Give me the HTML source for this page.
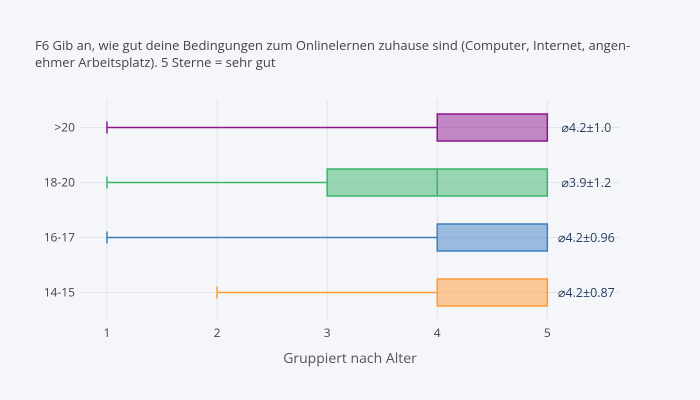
<!DOCTYPE html>
<html><head><meta charset="utf-8"><style>
body{margin:0;background:#f5f6fa;}
svg{display:block;font-family:"Open Sans","Liberation Sans",sans-serif;}
</style></head><body>
<svg id="chart" width="700" height="400">
<rect x="0" y="0" width="700" height="400" fill="#f5f6fa"/>
<text x="35" y="50" font-size="13" fill="#444">F6 Gib an, wie gut deine Bedingungen zum Onlinelernen zuhause sind (Computer, Internet, angen-</text>
<text x="35" y="67" font-size="13" fill="#444">ehmer Arbeitsplatz). 5 Sterne = sehr gut</text>
<g id="grid"></g>
<g id="marks"></g>
<text x="350" y="363" font-size="14" fill="#555" text-anchor="middle">Gruppiert nach Alter</text>
</svg>
<script>
const categories=["14-15","16-17","18-20",">20"];
const mins=[2,1,1,1];
const q1s=[4,4,3,4];
const medians=[4,4,4,4];
const q3s=[5,5,5,5];
const maxs=[5,5,5,5];
const labels=["⌀4.2±0.87","⌀4.2±0.96","⌀3.9±1.2","⌀4.2±1.0"];
const colors=["#ff9933","#3d7fc0","#3cb36a","#8e168e"];
const fills=["rgba(255,153,51,0.5)","rgba(61,127,192,0.5)","rgba(60,179,106,0.5)","rgba(142,22,142,0.5)"];
const xTicks=[1,2,3,4,5];
const L=80,R=620,T=100,B=320,x0=0.755,x1=5.66;
const X=v=>L+(v-x0)/(x1-x0)*(R-L);
const Y=i=>B-27.5-i*55;
const ns="http://www.w3.org/2000/svg";
function mk(tag,attrs,parent){const e=document.createElementNS(ns,tag);for(const k in attrs)e.setAttribute(k,attrs[k]);parent.appendChild(e);return e;}
const grid=document.getElementById('grid'),marks=document.getElementById('marks');
xTicks.forEach(t=>{
 const g=mk('line',{x1:X(t),x2:X(t),y1:T,y2:B,stroke:'#e1e4ec','stroke-width':1},grid);
 
 
 const tx=mk('text',{x:X(t),y:B+17,'font-size':12,fill:'#444','text-anchor':'middle'},grid);
 tx.textContent=t;
 
 
});
categories.forEach((c,i)=>{
 const y=Y(i);
 const g=mk('line',{x1:L,x2:R,y1:y,y2:y,stroke:'#e1e4ec','stroke-width':1},grid);
 
 
 const tx=mk('text',{x:L-5,y:y+4,'font-size':12,fill:'#444','text-anchor':'end'},grid);
 tx.textContent=c;
 
 
 const grp=mk('g',{},marks);
 
 
 mk('line',{x1:X(mins[i]),x2:X(q1s[i]),y1:y,y2:y,stroke:colors[i],'stroke-width':1.5},grp);
 mk('line',{x1:X(mins[i]),x2:X(mins[i]),y1:y-6,y2:y+6,stroke:colors[i],'stroke-width':1.5},grp);
 mk('line',{x1:X(q3s[i]),x2:X(maxs[i]),y1:y,y2:y,stroke:colors[i],'stroke-width':1.5},grp);
 mk('rect',{x:X(q1s[i]),y:y-13.5,width:X(q3s[i])-X(q1s[i]),height:27,fill:fills[i],stroke:colors[i],'stroke-width':1.5},grp);
 mk('line',{x1:X(medians[i]),x2:X(medians[i]),y1:y-13.5,y2:y+13.5,stroke:colors[i],'stroke-width':1.5},grp);
 const lb=mk('text',{x:X(maxs[i])+39,y:y+4.5,'font-size':12.5,fill:'#2a3f5f','text-anchor':'middle'},marks);
 lb.textContent=labels[i];
 
 
});
</script>
</body></html>
